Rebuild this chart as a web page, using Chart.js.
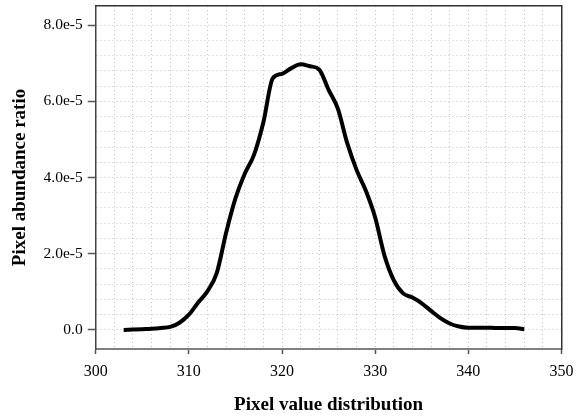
<!DOCTYPE html>
<html>
<head>
<meta charset="utf-8">
<script src="https://cdn.jsdelivr.net/npm/chart.js@4.4.1/dist/chart.umd.min.js"></script>
<style>
  html, body { margin: 0; padding: 0; background: #fff; }
  #wrap { width: 581px; height: 416px; }
</style>
</head>
<body>
<div id="wrap"><canvas id="chart"></canvas></div>
<script>
// pixel value (x) and abundance ratio in units of 1e-5 (y)
const pixelValues = [303, 304, 305, 306, 307, 308, 309, 310, 311, 312, 313, 314, 315, 316, 317,
  318, 319, 320, 321, 322, 323, 324, 325, 326, 327, 328, 329, 330, 331, 332, 333, 334, 335,
  336, 337, 338, 339, 340, 341, 342, 343, 344, 345, 346];
const abundanceE5 = [0.0, 0.01, 0.02, 0.03, 0.05, 0.08, 0.19, 0.40, 0.72, 1.02, 1.50, 2.55, 3.45,
  4.10, 4.60, 5.45, 6.60, 6.72, 6.87, 6.97, 6.92, 6.83, 6.30, 5.80, 4.90, 4.20, 3.65, 2.95,
  1.95, 1.30, 0.96, 0.85, 0.70, 0.50, 0.31, 0.17, 0.09, 0.06, 0.06, 0.06, 0.05, 0.05, 0.05, 0.02];

const xMajorStep = 10;
const yMajorStep = 2;   // 2.0e-5
const fontFamily = "'Liberation Serif', 'Times New Roman', serif";

const onStep = (v, step) => Math.abs(v / step - Math.round(v / step)) < 1e-6;
const gridColor = "rgba(120,120,120,0.45)";

new Chart(document.getElementById("chart"), {
  type: "line",
  data: {
    datasets: [{
      data: pixelValues.map((x, i) => ({ x, y: abundanceE5[i] })),
      borderColor: "#000",
      borderWidth: 4,
      pointRadius: 0,
      fill: false,
      cubicInterpolationMode: "monotone"
    }]
  },
  options: {
    responsive: true,
    maintainAspectRatio: false,
    animation: false,
    layout: { padding: { top: 6, right: 19.5, left: 0, bottom: 0 } },
    plugins: { legend: { display: false }, tooltip: { enabled: false } },
    scales: {
      x: {
        type: "linear",
        min: 300,
        max: 350,
        afterFit: (s) => { s.height = 67; s.paddingLeft = 0; s.paddingRight = 0; },
        ticks: {
          stepSize: 2,
          autoSkip: false,
          maxRotation: 0,
          padding: 8,
          color: "#000",
          font: { family: fontFamily, size: 16 },
          callback: (v) => onStep(v, xMajorStep) ? String(v) : ""
        },
        grid: {
          color: (c) => (c.tick && (c.tick.value === 300 || c.tick.value === 350)) ? "rgba(0,0,0,0)" : gridColor,
          lineWidth: 1,
          tickLength: 5,
          tickColor: (c) => c.tick && onStep(c.tick.value, xMajorStep) ? "#555" : "rgba(0,0,0,0)",
          tickWidth: 1.5
        },
        border: { color: "#808080", width: 2, dash: [1, 3] },
        title: {
          display: true,
          text: "Pixel value distribution",
          color: "#000",
          font: { family: fontFamily, size: 19, weight: "bold" },
          padding: { top: 0, bottom: 0 }
        }
      },
      y: {
        min: -0.5,
        max: 8.5,
        afterFit: (s) => { s.width = 95.7; s.paddingTop = 0; s.paddingBottom = 0; },
        ticks: {
          stepSize: 0.4,
          autoSkip: false,
          padding: 5,
          color: "#000",
          font: { family: fontFamily, size: 15.5 },
          callback: (v) => onStep(v, yMajorStep) ? (v === 0 ? "0.0" : v.toFixed(1) + "e-5") : ""
        },
        grid: {
          color: (c) => (c.tick && onStep(c.tick.value, 0.4)) ? gridColor : "rgba(0,0,0,0)",
          lineWidth: 1,
          tickLength: 8,
          tickColor: (c) => c.tick && onStep(c.tick.value, yMajorStep) ? "#555" : "rgba(0,0,0,0)",
          tickWidth: 1.5
        },
        border: { color: "#444", width: 1.5, dash: [1, 3] },
        title: {
          display: true,
          text: "Pixel abundance ratio",
          color: "#000",
          font: { family: fontFamily, size: 19, weight: "bold" },
          padding: { top: 9, bottom: 0 }
        }
      },
      xTop: {
        type: "linear",
        position: "top",
        afterFit: (s) => { s.height = 0; },
        ticks: { display: false },
        grid: { display: false },
        border: { color: "#333", width: 1.5 }
      },
      yRight: {
        type: "linear",
        position: "right",
        afterFit: (s) => { s.width = 0; },
        ticks: { display: false },
        grid: { display: false },
        border: { color: "#333", width: 1.5 }
      }
    }
  }
});
</script>
</body>
</html>
